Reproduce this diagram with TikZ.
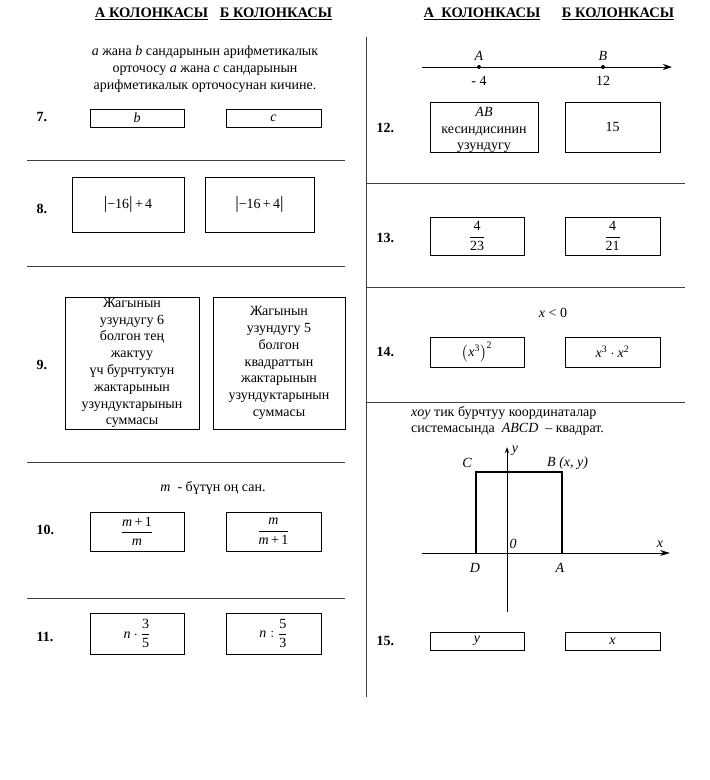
\documentclass[tikz,border=0pt]{standalone}
\usepackage{amsmath}
\usepackage{fontspec}
\setmainfont{Liberation Serif}
\usetikzlibrary{arrows.meta}
\newcommand{\iv}[1]{\textit{#1}}
\newcommand{\tx}[1]{\text{#1}}
\newcommand{\vb}{{\fontsize{17.5}{17.5}\selectfont|}}
\begin{document}
\begin{tikzpicture}[x=1pt,y=-1pt,
  font=\fontsize{14}{16.8}\selectfont,
  abox/.style={draw, line width=0.8pt, inner sep=0pt, align=center},
  num/.style={font=\fontsize{14}{16.8}\selectfont\bfseries, anchor=west},
  sepline/.style={draw=black!75, line width=1pt},
  hdr/.style={font=\fontsize{14.5}{17}\selectfont\bfseries},
  lbl/.style={inner sep=1pt},
  dot/.style={circle, fill, inner sep=0pt, minimum size=4pt}]
\useasboundingbox[fill=white] (0,0) rectangle (710,780);

% headers
\node[hdr] (hA1) at (151.5,14) {\underline{А КОЛОНКАСЫ}};
\node[hdr] (hB1) at (276,14) {\underline{Б КОЛОНКАСЫ}};
\node[hdr] (hA2) at (482,14) {\underline{А\ \ КОЛОНКАСЫ}};
\node[hdr] (hB2) at (618,14) {\underline{Б КОЛОНКАСЫ}};

% divider
\coordinate (v0) at (366,37);
\coordinate (v1) at (366,697);
\draw[sepline] (v0) -- (v1);

% left separators
\foreach \yy/\nm in {160/l1,266/l2,462/l3,598/l4}{
  \coordinate (\nm a) at (27,\yy);
  \coordinate (\nm b) at (345,\yy);
  \draw[sepline] (\nm a) -- (\nm b);
}
% right separators
\foreach \yy/\nm in {183/r1,287/r2,402/r3}{
  \coordinate (\nm a) at (366,\yy);
  \coordinate (\nm b) at (685,\yy);
  \draw[sepline] (\nm a) -- (\nm b);
}

% ---- 7
\node[align=center] (t7) at (205,69) {\iv{a} жана \iv{b} сандарынын арифметикалык\\орточосу \iv{a} жана \iv{c} сандарынын\\арифметикалык орточосунан кичине.};
\node[num] (n7) at (33,117) {7.};
\node[abox, minimum width=94pt, minimum height=18pt] (b7a) at (137,118) {\iv{b}};
\node[abox, minimum width=95pt, minimum height=18pt] (b7b) at (273.5,118) {\iv{c}};

% ---- 8
\node[num] (n8) at (33,209) {8.};
\node[abox, minimum width=112pt, minimum height=55pt] (b8a) at (128,204.5) {\vb−16\vb\,+\,4};
\node[abox, minimum width=109pt, minimum height=55pt] (b8b) at (259.5,204.5) {\vb−16\,+\,4\vb};

% ---- 9
\node[num] (n9) at (33,365) {9.};
\node[abox, minimum width=134pt, minimum height=132pt] (b9a) at (132,363) {Жагынын\\узундугу 6\\болгон тең\\жактуу\\үч бурчтуктун\\жактарынын\\узундуктарынын\\суммасы};
\node[abox, minimum width=132pt, minimum height=132pt] (b9b) at (279,363) {Жагынын\\узундугу 5\\болгон\\квадраттын\\жактарынын\\узундуктарынын\\суммасы};

% ---- 10
\node (t10) at (213,488) {\iv{m}\ \ - бүтүн оң сан.};
\node[num] (n10) at (33,530) {10.};
\node[abox, minimum width=94pt, minimum height=39pt] (b10a) at (137,531.5) {$\dfrac{\tx{\iv{m}\,+\,1}}{\tx{\iv{m}}}$};
\node[abox, minimum width=95pt, minimum height=39pt] (b10b) at (273.5,531.5) {$\dfrac{\tx{\iv{m}}}{\tx{\iv{m}\,+\,1}}$};

% ---- 11
\node[num] (n11) at (33,637) {11.};
\node[abox, minimum width=94pt, minimum height=41pt] (b11a) at (137,633.5) {$\tx{\iv{n}}\cdot\dfrac{\tx{3}}{\tx{5}}$};
\node[abox, minimum width=95pt, minimum height=41pt] (b11b) at (273.5,633.5) {$\tx{\iv{n}}:\dfrac{\tx{5}}{\tx{3}}$};

% ---- 12
\coordinate (nl0) at (422,67);
\coordinate (nl1) at (672,67);
\draw[line width=0.9pt, -{Stealth[length=9pt,width=6pt]}] (nl0) -- (nl1);
\node[dot] (pA) at (479,67) {};
\node[dot] (pB) at (603,67) {};
\node[lbl] (lA) at (479,56) {\iv{A}};
\node[lbl] (lB) at (603,56) {\iv{B}};
\node[lbl] (vA) at (479,81) {- 4};
\node[lbl] (vB) at (603,81) {12};
\node[num] (n12) at (373,128) {12.};
\node[abox, minimum width=108pt, minimum height=50pt] (b12a) at (484,127) {};
\node[align=center, inner sep=0pt] (t12a) at (484,130) {\iv{AB}\\кесиндисинин\\узундугу};
\node[abox, minimum width=95pt, minimum height=50pt] (b12b) at (612.5,127) {15};

% ---- 13
\node[num] (n13) at (373,238) {13.};
\node[abox, minimum width=94pt, minimum height=38pt] (b13a) at (477,236) {$\dfrac{\tx{4}}{\tx{23}}$};
\node[abox, minimum width=95pt, minimum height=38pt] (b13b) at (612.5,236) {$\dfrac{\tx{4}}{\tx{21}}$};

% ---- 14
\node (t14) at (553,313) {\iv{x} < 0};
\node[num] (n14) at (373,352) {14.};
\node[abox, minimum width=94pt, minimum height=30pt] (b14a) at (477,352) {$\left(\tx{\iv{x}}^{\tx{3}}\right)^{\tx{2}}$};
\node[abox, minimum width=95pt, minimum height=30pt] (b14b) at (612.5,352) {$\tx{\iv{x}}^{\tx{3}}\cdot \tx{\iv{x}}^{\tx{2}}$};

% ---- 15
\node[anchor=west, inner sep=0pt] (t15a) at (411,413) {\iv{xoy} тик бурчтуу координаталар};
\node[anchor=west, inner sep=0pt] (t15b) at (411,429) {системасында\ \ \iv{ABCD}\ \ – квадрат.};
\coordinate (xl) at (422,553);
\coordinate (xr) at (670,553);
\coordinate (yb) at (507,612);
\coordinate (yt) at (507,447);
\draw[line width=0.9pt, -{Stealth[length=10pt,width=6pt]}] (xl) -- (xr);
\draw[line width=0.9pt, -{Stealth[length=6pt,width=4pt]}] (yb) -- (yt);
\coordinate (sD) at (476,553);
\coordinate (sC) at (476,472);
\coordinate (sB) at (562,472);
\coordinate (sA) at (562,553);
\draw[line width=1.4pt] (sD) -- (sC) -- (sB) -- (sA);
\node[lbl] (lC) at (467,463) {\iv{C}};
\node[lbl, anchor=west] (lBxy) at (546,463) {\iv{B (x, y)}};
\node[lbl] (ly) at (515,451) {\iv{y}};
\node[lbl] (lO) at (513,544) {\iv{0}};
\node[lbl] (lx) at (660,544) {\iv{x}};
\node[lbl] (lD) at (475,568) {\iv{D}};
\node[lbl] (lAa) at (560,568) {\iv{A}};
\node[num] (n15) at (373,641) {15.};
\node[abox, minimum width=94pt, minimum height=18pt] (b15a) at (477,641) {\iv{y}};
\node[abox, minimum width=95pt, minimum height=18pt] (b15b) at (612.5,641) {\iv{x}};
\end{tikzpicture}
\end{document}
